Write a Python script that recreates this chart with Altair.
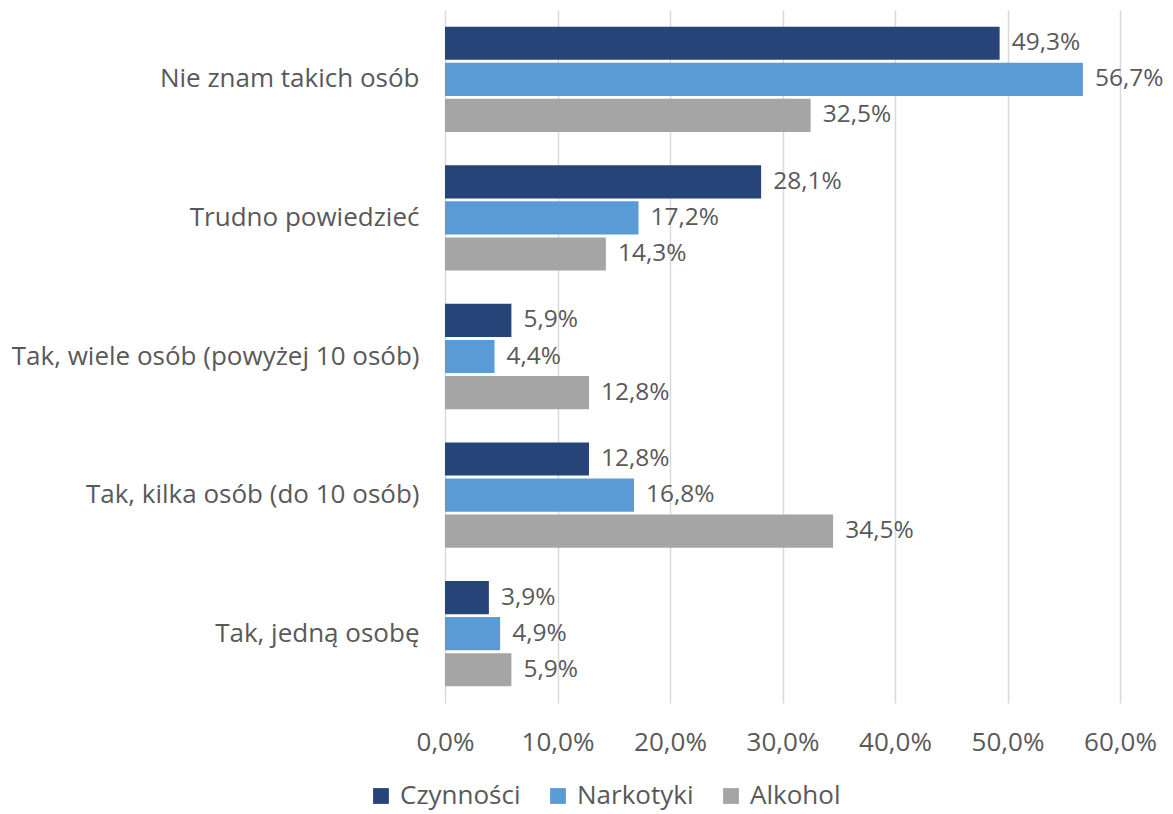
import altair as alt
import pandas as pd

categories = ["Nie znam takich osób", "Trudno powiedzieć", "Tak, wiele osób (powyżej 10 osób)",
              "Tak, kilka osób (do 10 osób)", "Tak, jedną osobę"]
series = ["Czynności", "Narkotyki", "Alkohol"]
czynnosci = [49.3, 28.1, 5.9, 12.8, 3.9]
narkotyki = [56.7, 17.2, 4.4, 16.8, 4.9]
alkohol = [32.5, 14.3, 12.8, 34.5, 5.9]
colors = ["#264478", "#5B9BD5", "#A5A5A5"]

rows = []
for s, vals in zip(series, [czynnosci, narkotyki, alkohol]):
    for c, v in zip(categories, vals):
        rows.append({"kat": c, "seria": s, "v": v, "lab": f"{v:.1f}".replace(".", ",") + "%"})
df = pd.DataFrame(rows)

FONT = "Open Sans"
TXT = "#595959"
FS = 26

base = alt.Chart(df).encode(
    y=alt.Y("kat:N", sort=categories, title=None,
            scale=alt.Scale(paddingInner=0.24, paddingOuter=0.12),
            axis=alt.Axis(labelFontSize=FS, labelColor=TXT, labelFont=FONT, ticks=False,
                          domain=False, labelPadding=26, labelLimit=600)),
    yOffset=alt.YOffset("seria:N", sort=series, scale=alt.Scale(paddingInner=0.08)),
)

bars = base.mark_bar().encode(
    x=alt.X("v:Q", title=None, scale=alt.Scale(domain=[0, 60]),
            axis=alt.Axis(values=[0, 10, 20, 30, 40, 50, 60],
                          labelExpr="replace(format(datum.value, '.1f'), '.', ',') + '%'",
                          labelFontSize=FS, labelColor=TXT, labelFont=FONT, ticks=False,
                          domain=False, grid=True, gridColor="#D9D9D9", gridWidth=1.5,
                          labelPadding=26, labelFlush=False, labelOverlap=False, labelBound=False)),
    color=alt.Color("seria:N", sort=series, scale=alt.Scale(domain=series, range=colors),
                    legend=alt.Legend(title=None, orient="none", direction="horizontal",
                                      legendX=-77, legendY=773,
                                      labelFontSize=FS, labelColor=TXT, labelFont=FONT,
                                      labelLimit=300,
                                      symbolType="square", symbolSize=250, symbolStrokeWidth=0,
                                      labelOffset=6, columnPadding=24)),
)

labels = base.mark_text(align="left", baseline="middle", dx=12, fontSize=24.5, font=FONT, color=TXT).encode(
    x="v:Q", text="lab:N")

chart = (bars + labels).properties(
    width=675, height=693,
    autosize=alt.AutoSizeParams(type="none"),
    padding={"left": 437, "top": 2, "right": 45, "bottom": 110},
).configure_view(stroke=None)

chart.save("out.html", embed_options={"renderer": "svg", "actions": False})
